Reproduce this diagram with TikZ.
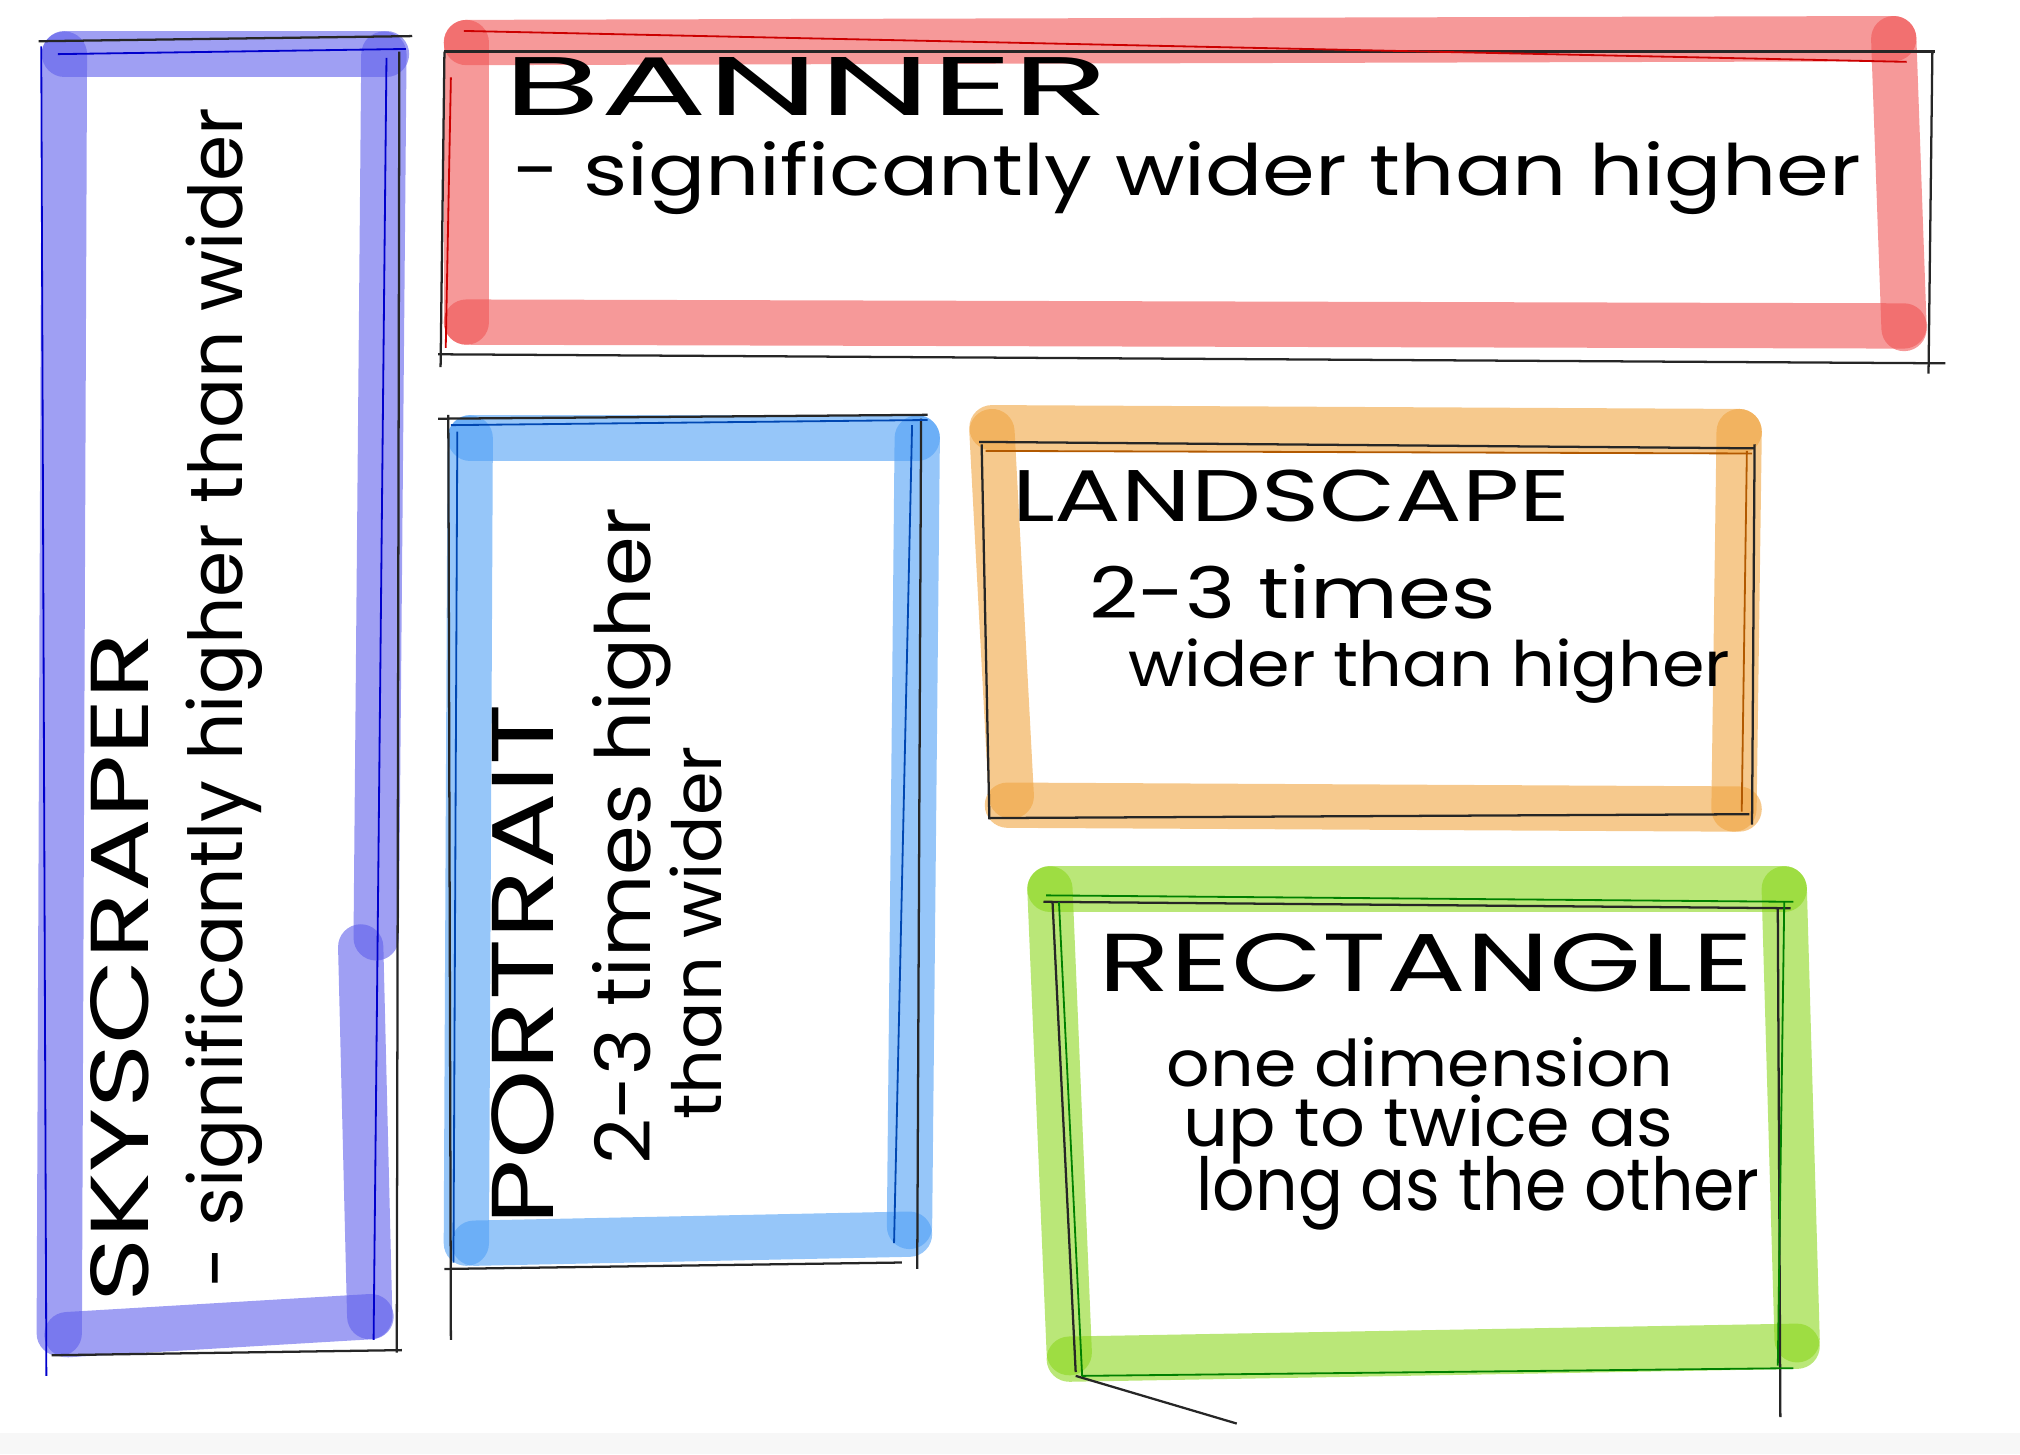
\documentclass[tikz,border=0pt]{standalone}
\usepackage{fontspec}
\setmainfont{Poppins}
\usetikzlibrary{positioning}
\definecolor{skyviolet}{RGB}{95, 95, 235}
\definecolor{bannerred}{RGB}{240, 85, 85}
\definecolor{portblue}{RGB}{80, 160, 245}
\definecolor{landorange}{RGB}{240, 165, 65}
\definecolor{rectgreen}{RGB}{140, 215, 30}
\newcommand{\handline}[3]{\resizebox{#1}{#2}{#3}}

\begin{document}
\begin{tikzpicture}[x=0.01cm, y=-0.01cm,
    band/.style={line width=10pt, line cap=round, opacity=0.6},
    pencil/.style={line width=0.5pt, black!85},
    hand/.style={inner sep=0pt, anchor=base west, font=\fontsize{16}{16}\selectfont}]
    \useasboundingbox (0,0) rectangle (1568,1129);
    \fill[gray!6] (0,1112) rectangle (1568,1129);

    % Skyscraper
    \draw[band, skyviolet] (50,42) -- (300,42);
    \draw[band, skyviolet] (50,42) -- (46,1035);
    \draw[band, skyviolet] (52,1036) -- (288,1022);
    \draw[band, skyviolet] (298,42) -- (292,728);
    \draw[band, skyviolet] (280,735) -- (287,1022);
    \draw[pencil] (30,32) -- (320,28);
    \draw[pencil] (310,40) -- (308,1050);
    \draw[pencil] (40,1052) -- (312,1048);
    \draw[blue!80!black, line width=0.4pt] (32,36) -- (36,1068);
    \draw[blue!80!black, line width=0.4pt] (45,42) -- (315,38);
    \draw[blue!80!black, line width=0.4pt] (300,45) -- (290,1040);
    \node[hand, rotate=90] (skytitle) at (115,1012) {\handline{5.2cm}{0.45cm}{SKYSCRAPER}};
    \node[hand, rotate=90] (skytext) at (188,1000) {\handline{9.15cm}{0.44cm}{- significantly higher than wider}};

    % Banner
    \draw[band, bannerred] (362,33) -- (1470,30);
    \draw[band, bannerred] (362,33) -- (362,250);
    \draw[band, bannerred] (362,250) -- (1478,253);
    \draw[band, bannerred] (1470,30) -- (1478,255);
    \draw[pencil] (345,40) -- (1502,40);
    \draw[pencil] (345,40) -- (342,285);
    \draw[pencil] (1500,40) -- (1497,290);
    \draw[pencil] (340,275) -- (1510,282);
    \draw[red!80!black, line width=0.4pt] (360,24) -- (1480,48);
    \draw[red!80!black, line width=0.4pt] (350,60) -- (346,270);
    \node[hand] (bannertitle) at (390,90) {\handline{4.7cm}{0.45cm}{BANNER}};
    \node[hand] (bannertext) at (398,152) {\handline{10.45cm}{0.42cm}{- significantly wider than higher}};

    % Portrait
    \draw[band, portblue] (365,340) -- (712,340);
    \draw[band, portblue] (365,340) -- (362,965);
    \draw[band, portblue] (368,965) -- (706,958);
    \draw[band, portblue] (712,340) -- (706,952);
    \draw[pencil] (340,325) -- (720,322);
    \draw[pencil] (348,322) -- (350,1040);
    \draw[pencil] (715,325) -- (712,985);
    \draw[pencil] (345,985) -- (700,980);
    \draw[blue!60!cyan!70!black, line width=0.4pt] (350,330) -- (720,326);
    \draw[blue!60!cyan!70!black, line width=0.4pt] (355,335) -- (352,980);
    \draw[blue!60!cyan!70!black, line width=0.4pt] (708,330) -- (694,965);
    \node[hand, rotate=90] (porttitle) at (430,952) {\handline{4.05cm}{0.48cm}{PORTRAIT}};
    \node[hand, rotate=90] (porttext) at (505,905) {\handline{5.1cm}{0.45cm}{2-3 times higher}};
    \node[hand, rotate=90] (porttextb) at (560,870) {\handline{2.9cm}{0.4cm}{than wider}};

    % Landscape
    \draw[band, landorange] (770,332) -- (1350,335);
    \draw[band, landorange] (770,335) -- (785,618);
    \draw[band, landorange] (782,625) -- (1350,628);
    \draw[band, landorange] (1350,335) -- (1346,628);
    \draw[pencil] (760,343) -- (1362,348);
    \draw[pencil] (762,345) -- (768,636);
    \draw[pencil] (1362,345) -- (1360,640);
    \draw[pencil] (768,635) -- (1358,632);
    \draw[orange!70!black, line width=0.4pt] (765,350) -- (1360,352);
    \draw[orange!70!black, line width=0.4pt] (1356,350) -- (1352,630);
    \node[hand] (landtitle) at (785,405) {\handline{4.33cm}{0.40cm}{LANDSCAPE}};
    \node[hand] (landtext) at (845,480) {\handline{3.15cm}{0.42cm}{2-3 times}};
    \node[hand] (landtextb) at (875,533) {\handline{4.67cm}{0.37cm}{wider than higher}};

    % Rectangle
    \draw[band, rectgreen] (815,690) -- (1385,690);
    \draw[band, rectgreen] (815,690) -- (830,1050);
    \draw[band, rectgreen] (830,1055) -- (1395,1045);
    \draw[band, rectgreen] (1385,690) -- (1395,1040);
    \draw[pencil] (810,700) -- (1390,705);
    \draw[pencil] (817,700) -- (835,1065);
    \draw[pencil] (1380,705) -- (1382,1100);
    \draw[pencil] (835,1068) -- (960,1105);
    \draw[green!50!black, line width=0.4pt] (812,695) -- (1392,700);
    \draw[green!50!black, line width=0.4pt] (822,700) -- (840,1068);
    \draw[green!50!black, line width=0.4pt] (840,1068) -- (1392,1062);
    \draw[green!50!black, line width=0.4pt] (1385,700) -- (1380,1060);
    \node[hand] (recttitle) at (852,770) {\handline{5.08cm}{0.45cm}{RECTANGLE}};
    \node[hand] (recttext) at (905,843) {\handline{3.93cm}{0.38cm}{one dimension}};
    \node[hand] (recttextb) at (918,890) {\handline{3.8cm}{0.4cm}{up to twice as}};
    \node[hand] (recttextc) at (928,940) {\handline{4.37cm}{0.42cm}{long as the other}};
\end{tikzpicture}
\end{document}
